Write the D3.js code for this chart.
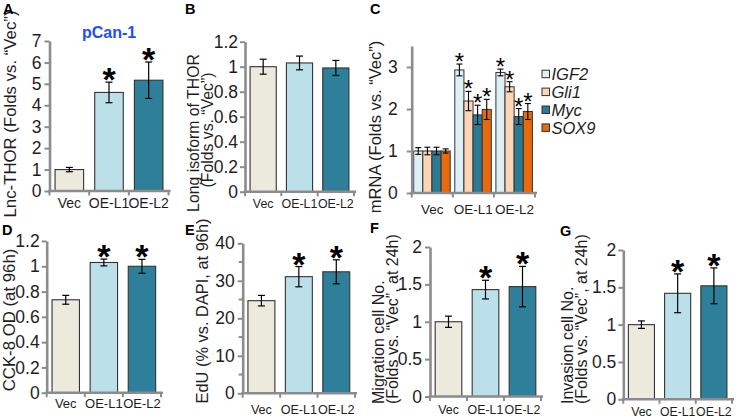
<!DOCTYPE html>
<html><head><meta charset="utf-8">
<script src="https://cdn.jsdelivr.net/npm/d3@7"></script>
<style>
body{margin:0;background:#fff}
svg{display:block}
text{font-family:"Liberation Sans",Arial,Helvetica,sans-serif}
</style>
</head><body>
<svg id="chart" width="742" height="420"></svg>
<script>
// ---------- data ----------
const categories = ["Vec", "OE-L1", "OE-L2"];
const barColors = ["#ece9dd", "#bce0ea", "#2e7f99"];

const aValues = [1.0, 4.6, 5.17];
const aErrors = [0.1, 0.48, 0.85];
const aStars = [false, true, true];
const aTicks = [0, 1, 2, 3, 4, 5, 6, 7];

const bValues = [1.0, 1.03, 0.99];
const bErrors = [0.06, 0.055, 0.06];
const bStars = [false, false, false];
const bTicks = [0, 0.2, 0.4, 0.6, 0.8, 1, 1.2];

const cGenes = ["IGF2", "Gli1", "Myc", "SOX9"];
const cColors = ["#ddf0f6", "#fcd4b6", "#2c7a93", "#e9690f"];
const cIGF2 = [1.0, 2.93, 2.87];
const cGli1 = [1.0, 2.19, 2.53];
const cMyc = [1.0, 1.86, 1.82];
const cSOX9 = [1.0, 1.99, 1.94];
const cIGF2Err = [0.08, 0.14, 0.08];
const cGli1Err = [0.09, 0.23, 0.12];
const cMycErr = [0.09, 0.23, 0.19];
const cSOX9Err = [0.05, 0.24, 0.19];
const cStars = [false, true, true];
const cTicks = [0, 1, 2, 3];

const dValues = [0.735, 1.03, 1.0];
const dErrors = [0.035, 0.027, 0.055];
const dStars = [false, true, true];
const dTicks = [0, 0.2, 0.4, 0.6, 0.8, 1, 1.2];

const eValues = [24.7, 31.1, 32.4];
const eErrors = [1.4, 2.7, 3.2];
const eStars = [false, true, true];
const eTicks = [0, 10, 20, 30, 40];
const eMinorTicks = [5, 15, 25, 35];

const fValues = [1.0, 1.43, 1.47];
const fErrors = [0.075, 0.125, 0.27];
const fStars = [false, true, true];
const fTicks = [0, 0.5, 1, 1.5, 2];

const gValues = [1.0, 1.42, 1.52];
const gErrors = [0.05, 0.26, 0.24];
const gStars = [false, true, true];
const gTicks = [0, 0.5, 1, 1.5, 2];

// ---------- drawing ----------
const svg = d3.select("#chart");
const AXIS = "#8c8c8c";
const TXT = "#1e1e1e";

function yAxis(o, y) {
  const ga = svg.append("g").attr("transform", `translate(${o.x0},0)`)
    .call(d3.axisLeft(y).tickValues(o.ticks).tickSizeOuter(0).tickSizeInner(5)
      .tickPadding(o.pad).tickFormat(d => String(d)));
  ga.select(".domain").attr("stroke", AXIS).attr("stroke-width", 2.6);
  ga.selectAll(".tick line").attr("stroke", AXIS).attr("stroke-width", 2);
  ga.selectAll(".tick text").attr("font-size", 17.5).attr("fill", TXT)
    .attr("font-family", '"Liberation Sans",Arial,sans-serif');
  if (o.minor) {
    ga.selectAll(".minor").data(o.minor).enter().append("line")
      .attr("x1", -4).attr("x2", 0).attr("y1", d => y(d)).attr("y2", d => y(d))
      .attr("stroke", AXIS).attr("stroke-width", 2);
  }
}

function xAxis(o, x) {
  svg.append("line").attr("x1", o.x0 - 1.3).attr("x2", o.x1 + 2)
    .attr("y1", o.y0).attr("y2", o.y0).attr("stroke", AXIS).attr("stroke-width", 2.6);
  svg.selectAll(null).data(d3.range(categories.length + 1)).enter().append("line")
    .attr("x1", i => o.x0 + i * x.step()).attr("x2", i => o.x0 + i * x.step())
    .attr("y1", o.y0).attr("y2", o.y0 + 4.5).attr("stroke", AXIS).attr("stroke-width", 2);
  svg.selectAll(null).data(categories).enter().append("text")
    .attr("x", d => x(d) + x.bandwidth() / 2).attr("y", o.labelY)
    .attr("text-anchor", "middle").attr("font-size", o.catFs || 14).attr("fill", TXT).text(d => d);
}

function titles(lines) {
  lines.forEach(l => svg.append("text")
    .attr("transform", `translate(${l.x},${l.y}) rotate(-90)`)
    .attr("text-anchor", l.anchor || "middle").attr("font-size", l.fs || 16)
    .attr("fill", TXT).text(l.t));
}

function letter(t, x, yb) {
  svg.append("text").attr("x", x).attr("y", yb).attr("font-size", 14.5)
    .attr("font-weight", "bold").attr("fill", "#000").text(t);
}

function barPanel(o, values, errors, stars) {
  const x = d3.scaleBand().domain(categories).range([o.x0, o.x1]);
  const y = d3.scaleLinear().domain([0, o.ymax]).range([o.y0, o.yTop]);
  const bw = x.bandwidth() * 0.72;
  const cx = d => x(d) + x.bandwidth() / 2;
  const rows = categories.map((c, i) => ({ c, v: values[i], e: errors[i], s: stars[i], col: barColors[i] }));
  const g = svg.append("g");
  g.selectAll("rect").data(rows).enter().append("rect")
    .attr("x", d => cx(d.c) - bw / 2).attr("width", bw)
    .attr("y", d => y(d.v)).attr("height", d => o.y0 - y(d.v))
    .attr("fill", d => d.col).attr("stroke", "#333").attr("stroke-width", 1.1);
  const eg = g.selectAll(".err").data(rows).enter().append("g");
  eg.append("line").attr("x1", d => cx(d.c)).attr("x2", d => cx(d.c))
    .attr("y1", d => y(d.v + d.e)).attr("y2", d => y(d.v - d.e));
  eg.append("line").attr("x1", d => cx(d.c) - 3.5).attr("x2", d => cx(d.c) + 3.5)
    .attr("y1", d => y(d.v + d.e)).attr("y2", d => y(d.v + d.e));
  eg.append("line").attr("x1", d => cx(d.c) - 3.5).attr("x2", d => cx(d.c) + 3.5)
    .attr("y1", d => y(d.v - d.e)).attr("y2", d => y(d.v - d.e));
  eg.selectAll("line").attr("stroke", "#000").attr("stroke-width", 1.2);
  g.selectAll(".star").data(rows.filter(d => d.s)).enter().append("text")
    .attr("x", d => cx(d.c)).attr("y", d => y(d.v + d.e) + 9)
    .attr("text-anchor", "middle").attr("font-size", 34).attr("font-weight", "bold")
    .attr("fill", "#000").text("*");
  yAxis(o, y);
  xAxis(o, x);
}

// Panel A
barPanel({ x0: 49.5, x1: 168.5, y0: 191, ymax: 7, yTop: 41, ticks: aTicks, pad: 3, labelY: 208, catFs: 14 },
  aValues, aErrors, aStars);
titles([{ t: "Lnc-THOR (Folds vs. \u201CVec\u201D)", x: 16, y: 114, fs: 16.8 }]);
letter("A", 3, 14);
svg.append("text").attr("x", 82).attr("y", 38).attr("font-size", 16).attr("font-weight", "bold")
  .attr("fill", "#1f4ef2").text("pCan-1");

// Panel B
barPanel({ x0: 245, x1: 354, y0: 191.7, ymax: 1.2, yTop: 41.7, ticks: bTicks, pad: 2, labelY: 208, catFs: 12.4 },
  bValues, bErrors, bStars);
titles([{ t: "Long isoform of THOR", x: 199, y: 133, fs: 15.8 },
        { t: "(Folds vs. \u201CVec\u201D)", x: 213, y: 130, fs: 15.8 }]);
letter("B", 185, 14);

// Panel C
(function () {
  const o = { x0: 411.7, x1: 535, y0: 193, ymax: 3.5, yTop: 46, ticks: cTicks, pad: 9, labelY: 214, catFs: 13.5 };
  const x = d3.scaleBand().domain(categories).range([o.x0, o.x1]);
  const xi = d3.scaleBand().domain(cGenes).range([2, 38.5]);
  const y = d3.scaleLinear().domain([0, o.ymax]).range([o.y0, o.yTop]);
  const vals = [cIGF2, cGli1, cMyc, cSOX9];
  const errs = [cIGF2Err, cGli1Err, cMycErr, cSOX9Err];
  const rows = [];
  categories.forEach((c, ci) => cGenes.forEach((gname, gi) =>
    rows.push({ c, gname, v: vals[gi][ci], e: errs[gi][ci], s: cStars[ci], col: cColors[gi] })));
  const bx = d => x(d.c) + xi(d.gname);
  const cx = d => bx(d) + xi.bandwidth() / 2;
  svg.selectAll(null).data(rows).enter().append("rect")
    .attr("x", bx).attr("width", xi.bandwidth())
    .attr("y", d => y(d.v)).attr("height", d => o.y0 - y(d.v))
    .attr("fill", d => d.col).attr("stroke", "#333").attr("stroke-width", 1);
  const eg = svg.selectAll(null).data(rows).enter().append("g");
  eg.append("line").attr("x1", cx).attr("x2", cx).attr("y1", d => y(d.v + d.e)).attr("y2", d => y(d.v - d.e));
  eg.append("line").attr("x1", d => cx(d) - 3).attr("x2", d => cx(d) + 3).attr("y1", d => y(d.v + d.e)).attr("y2", d => y(d.v + d.e));
  eg.append("line").attr("x1", d => cx(d) - 3).attr("x2", d => cx(d) + 3).attr("y1", d => y(d.v - d.e)).attr("y2", d => y(d.v - d.e));
  eg.selectAll("line").attr("stroke", "#000").attr("stroke-width", 1.1);
  svg.selectAll(null).data(rows.filter(d => d.s)).enter().append("text")
    .attr("x", cx).attr("y", d => y(d.v + d.e) + 6)
    .attr("text-anchor", "middle").attr("font-size", 24).attr("fill", "#000").text("*");
  yAxis(o, y);
  xAxis(o, x);
  const lg = svg.append("g").attr("transform", "translate(542,74)");
  const li = lg.selectAll("g").data(cGenes).enter().append("g")
    .attr("transform", (d, i) => `translate(0,${i * 17.9})`);
  li.append("rect").attr("x", 0).attr("y", -3.8).attr("width", 7.5).attr("height", 7.5)
    .attr("fill", (d, i) => cColors[i]).attr("stroke", "#333").attr("stroke-width", 1);
  li.append("text").attr("x", 9.5).attr("y", 6).attr("font-size", 16.5)
    .attr("font-style", "italic").attr("fill", TXT).text(d => d);
})();
titles([{ t: "mRNA (Folds vs. \u201CVec\u201D)", x: 381, y: 127, fs: 16.5 }]);
letter("C", 370, 14);

// Panel D
barPanel({ x0: 46.7, x1: 161, y0: 392.7, ymax: 1.2, yTop: 241, ticks: dTicks, pad: 2, labelY: 408, catFs: 13 },
  dValues, dErrors, dStars);
titles([{ t: "CCK-8 OD (at 96h)", x: 15, y: 320, fs: 16.8 }]);
letter("D", 2, 235);

// Panel E
barPanel({ x0: 242.7, x1: 355, y0: 393.3, ymax: 40, yTop: 243.3, ticks: eTicks, minor: eMinorTicks, pad: 3, labelY: 414, catFs: 12.6 },
  eValues, eErrors, eStars);
titles([{ t: "EdU (% vs. DAPI, at 96h)", x: 208, y: 311, fs: 16.4 }]);
letter("E", 185, 235);

// Panel F
barPanel({ x0: 430, x1: 541, y0: 396.5, ymax: 2, yTop: 247, ticks: fTicks, pad: 3, labelY: 414, catFs: 12.4 },
  fValues, fErrors, fStars);
titles([{ t: "Migration cell No.", x: 384, y: 404, fs: 16, anchor: "start" },
        { t: "(Folds vs. \u201CVec\u201D, at 24h)", x: 398, y: 404, fs: 16, anchor: "start" }]);
letter("F", 370, 233);

// Panel G
barPanel({ x0: 623.3, x1: 732, y0: 399.3, ymax: 2, yTop: 250, ticks: gTicks, pad: 2, labelY: 416, catFs: 12.3 },
  gValues, gErrors, gStars);
titles([{ t: "Invasion cell No.", x: 573, y: 404, fs: 16, anchor: "start" },
        { t: "(Folds vs. \u201CVec\u201D, at 24h)", x: 587, y: 404, fs: 16, anchor: "start" }]);
letter("G", 560, 236);
</script>
</body></html>
